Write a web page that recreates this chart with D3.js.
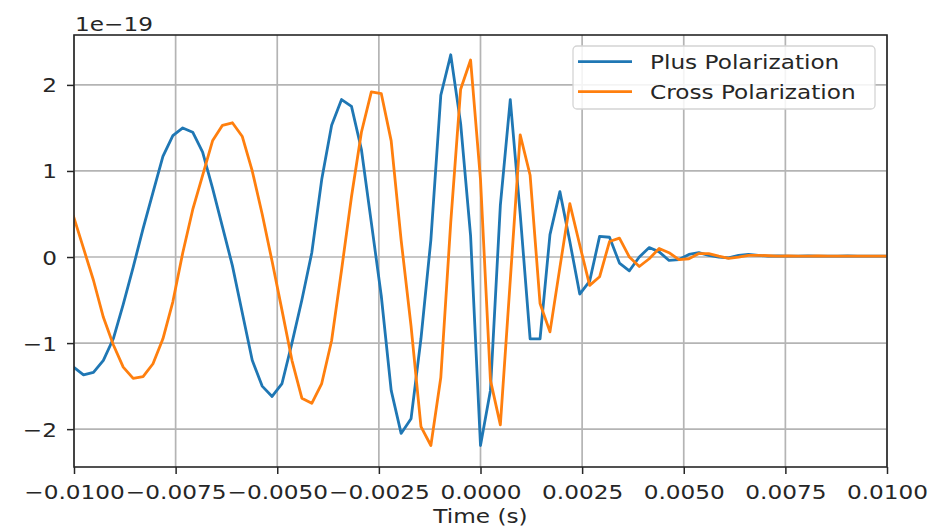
<!DOCTYPE html>
<html>
<head>
<meta charset="utf-8">
<script src="https://cdn.jsdelivr.net/npm/d3@7"></script>
<style>
  html, body { margin: 0; padding: 0; background: #fff; }
  svg { display: block; }
  text { font-family: "DejaVu Sans", sans-serif; fill: #262626; }
</style>
</head>
<body>
<svg id="chart" width="935" height="528"></svg>
<script>
// Sampling grid of the waveform (4096 Hz, sample index -41 .. 41 around merger)
const sampleRate = 4096;
const firstSample = -41;

// Strain values in units of 1e-19, one per sample
const plusStrain = [
  -1.28, -1.37, -1.34, -1.20, -0.95, -0.55, -0.12, 0.33, 0.75, 1.17,
  1.41, 1.50, 1.45, 1.22, 0.80, 0.35, -0.10, -0.65, -1.20, -1.50,
  -1.62, -1.47, -1.00, -0.50, 0.05, 0.90, 1.53, 1.83, 1.75, 1.25,
  0.40, -0.45, -1.55, -2.05, -1.88, -0.95, 0.20, 1.88, 2.35, 1.55,
  0.25, -2.19, -1.55, 0.60, 1.83, 0.50, -0.95, -0.95, 0.26, 0.76,
  0.18, -0.43, -0.28, 0.24, 0.23, -0.07, -0.16, 0.00, 0.11, 0.06,
  -0.04, -0.03, 0.03, 0.05, 0.02, 0.00, -0.01, 0.02, 0.03, 0.02,
  0.01, 0.012, 0.01, 0.01, 0.012, 0.01, 0.01, 0.01, 0.012, 0.01,
  0.01, 0.01, 0.01
];

const crossStrain = [
  0.47, 0.10, -0.27, -0.70, -1.02, -1.28, -1.41, -1.39, -1.24, -0.95,
  -0.52, 0.05, 0.55, 0.95, 1.35, 1.53, 1.56, 1.40, 1.00, 0.50,
  -0.05, -0.62, -1.20, -1.64, -1.70, -1.47, -0.97, -0.15, 0.70, 1.45,
  1.92, 1.90, 1.35, 0.20, -0.80, -1.97, -2.19, -1.40, 0.40, 1.95,
  2.29, 0.90, -1.43, -1.95, -0.27, 1.42, 0.95, -0.54, -0.87, -0.12,
  0.62, 0.14, -0.33, -0.23, 0.18, 0.22, 0.00, -0.11, -0.02, 0.10,
  0.05, -0.03, -0.02, 0.04, 0.04, 0.01, -0.015, 0.00, 0.02, 0.02,
  0.015, 0.01, 0.012, 0.01, 0.01, 0.012, 0.01, 0.01, 0.01, 0.01,
  0.01, 0.01, 0.01
];

const seriesNames = ["Plus Polarization", "Cross Polarization"];
const seriesColors = ["#1f77b4", "#ff7f0e"];
const xTicks = [-0.01, -0.0075, -0.005, -0.0025, 0, 0.0025, 0.005, 0.0075, 0.01];
const yTicks = [-2, -1, 0, 1, 2];
const xLabel = "Time (s)";
const offsetLabel = "1e\u221219";

const times = plusStrain.map((_, i) => (firstSample + i) / sampleRate);

const width = 935, height = 528;
const margin = { left: 74, right: 48, top: 35, bottom: 61 };
const innerW = width - margin.left - margin.right;
const innerH = height - margin.top - margin.bottom;
const fontSize = 20;
const stretch = 1.16;

const svg = d3.select("#chart");
const x = d3.scaleLinear().domain([-0.01, 0.01]).range([0, innerW]);
const y = d3.scaleLinear().domain([-2.44, 2.58]).range([innerH, 0]);

const g = svg.append("g").attr("transform", `translate(${margin.left},${margin.top})`);

g.append("defs").append("clipPath").attr("id", "plot-clip")
  .append("rect").attr("width", innerW).attr("height", innerH);

// grid
g.append("g").selectAll("line.vg").data(xTicks).join("line")
  .attr("x1", d => x(d)).attr("x2", d => x(d))
  .attr("y1", 0).attr("y2", innerH)
  .attr("stroke", "#b4b4b4").attr("stroke-width", 1.7);
g.append("g").selectAll("line.hg").data(yTicks).join("line")
  .attr("x1", 0).attr("x2", innerW)
  .attr("y1", d => y(d)).attr("y2", d => y(d))
  .attr("stroke", "#b4b4b4").attr("stroke-width", 1.7);

// waveforms
const line = d3.line().x((d, i) => x(times[i])).y(d => y(d));
const plot = g.append("g").attr("clip-path", "url(#plot-clip)");
[plusStrain, crossStrain].forEach((vals, si) => {
  plot.append("path").datum(vals)
    .attr("d", line)
    .attr("fill", "none")
    .attr("stroke", seriesColors[si])
    .attr("stroke-width", 2.8)
    .attr("stroke-linejoin", "round")
    .attr("stroke-linecap", "square");
});

// axes
const fmtX = d3.format(".4f");
const xAxis = g.append("g").attr("transform", `translate(0,${innerH})`)
  .call(d3.axisBottom(x).tickValues(xTicks).tickFormat(fmtX).tickSize(7).tickSizeOuter(0));
const yAxis = g.append("g")
  .call(d3.axisLeft(y).tickValues(yTicks).tickFormat(d3.format("d")).tickSize(7).tickSizeOuter(0));

[xAxis, yAxis].forEach(ax => {
  ax.select(".domain").remove();
  ax.selectAll(".tick line").attr("stroke", "#262626").attr("stroke-width", 1.5);
  ax.selectAll("text").attr("font-size", fontSize).attr("fill", "#262626")
    .style("font-family", "'DejaVu Sans', sans-serif");
});
xAxis.selectAll("text")
  .attr("y", 17.8).attr("dy", "0.71em")
  .attr("transform", `scale(${stretch},1)`);
yAxis.selectAll("text")
  .attr("x", 0).attr("dy", "0.35em")
  .attr("transform", `translate(-17,0) scale(${stretch},1)`);

// spines
g.append("rect").attr("width", innerW).attr("height", innerH)
  .attr("fill", "none").attr("stroke", "#262626").attr("stroke-width", 1.6);

// offset text and axis label
svg.append("text")
  .attr("transform", `translate(${margin.left + 1},31) scale(${stretch},1)`)
  .attr("font-size", fontSize).text(offsetLabel);
svg.append("text")
  .attr("transform", `translate(${margin.left + innerW / 2},523) scale(${stretch},1)`)
  .attr("text-anchor", "middle").attr("font-size", fontSize).text(xLabel);

// legend
const lg = svg.append("g").attr("transform", "translate(573,46)");
lg.append("rect").attr("width", 302).attr("height", 63).attr("rx", 4)
  .attr("fill", "#fff").attr("fill-opacity", 0.85)
  .attr("stroke", "#d4d4d4").attr("stroke-width", 1.3);
seriesNames.forEach((name, i) => {
  const row = lg.append("g").attr("transform", `translate(0,${15.7 + i * 30})`);
  row.append("line").attr("x1", 5).attr("x2", 59).attr("y1", 0).attr("y2", 0)
    .attr("stroke", seriesColors[i]).attr("stroke-width", 2.8);
  row.append("text")
    .attr("transform", `translate(77,7.4) scale(${stretch},1)`)
    .attr("font-size", fontSize).text(name);
});
</script>
</body>
</html>
